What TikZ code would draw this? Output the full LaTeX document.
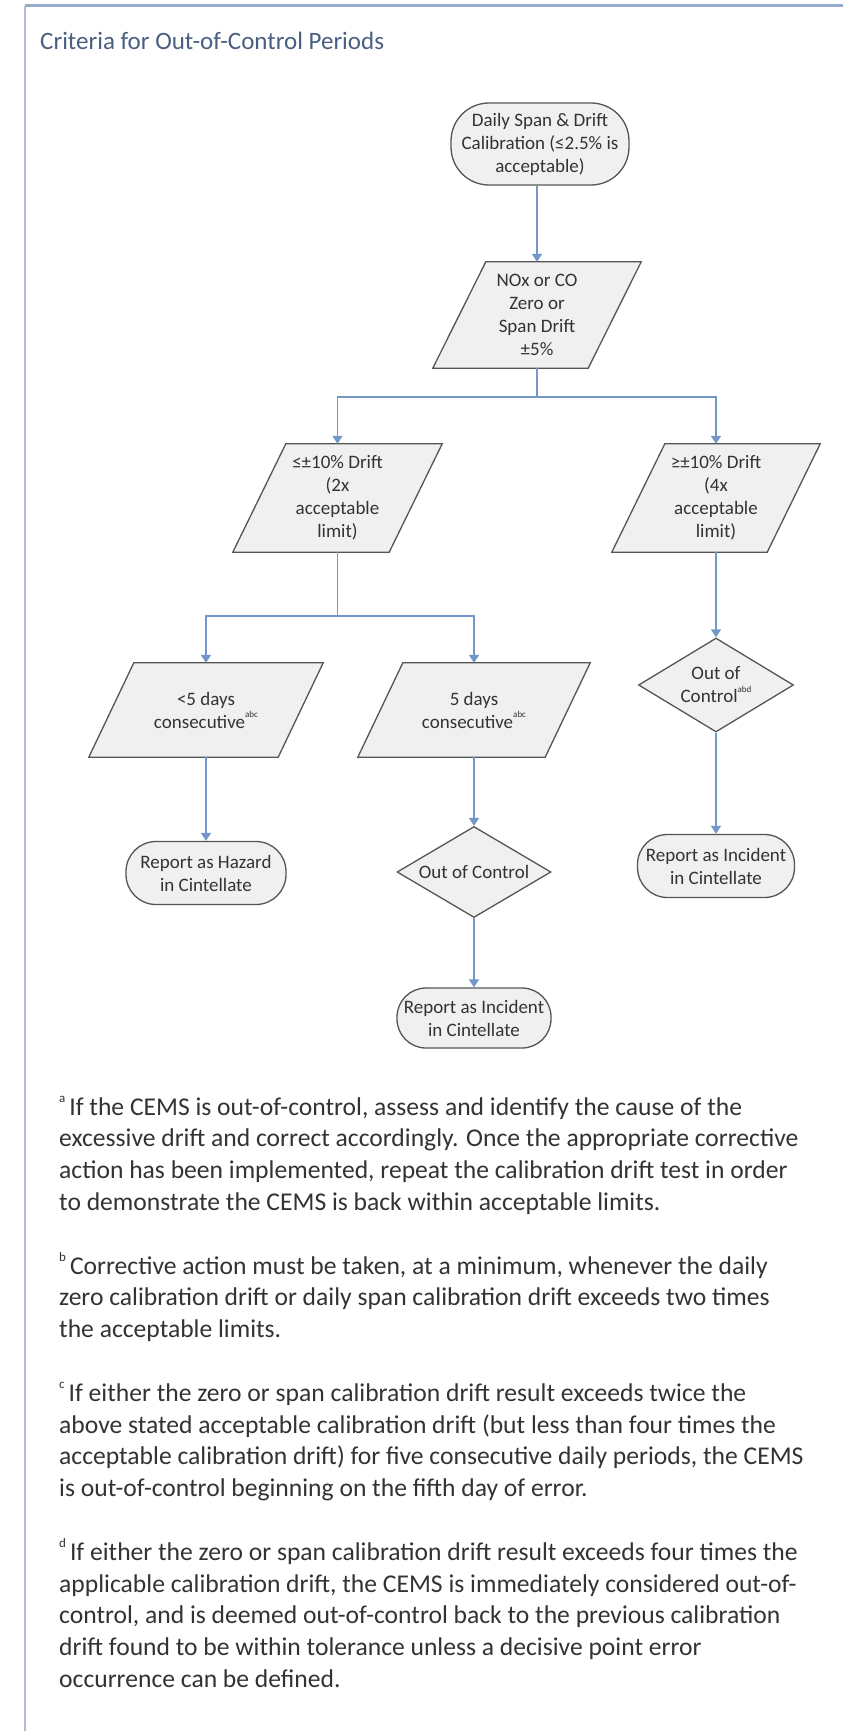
\documentclass[tikz,border=0pt]{standalone}
\usepackage{fontspec}
\setmainfont{Carlito}
\usetikzlibrary{shapes.geometric,backgrounds,arrows.meta}

\definecolor{linkblue}{HTML}{7297C8}
\definecolor{edgegray}{HTML}{555555}
\definecolor{boxfill}{HTML}{F0F0F0}
\definecolor{inktext}{HTML}{333333}
\definecolor{fntext}{HTML}{333333}
\definecolor{titleblue}{HTML}{4A5F80}
\definecolor{frametop}{HTML}{97ACCB}
\definecolor{frameside}{HTML}{B4BDCB}

% small raised marks used for footnote references
\newcommand\refmark[1]{\raisebox{0.55em}{\fontsize{9}{9}\selectfont #1}}
\newcommand\fnmark[1]{\raisebox{0.5em}{\fontsize{13}{13}\selectfont #1}\hspace{4pt}}
\newcommand\fnline[3]{\node[fnote] (#1) at (59,#2) {#3};}

\tikzset{
  conn/.style={draw=linkblue, line width=1.6pt},
  arrowconn/.style={conn, -{Triangle[width=10pt,length=8pt]}},
  shapetxt/.style={font=\fontsize{19}{23}\selectfont, text=inktext, align=center, inner sep=0pt},
  terminal/.style={shapetxt, draw=edgegray, fill=boxfill, line width=1.3pt},
  paranode/.style={shapetxt},
  parashape/.style={draw=edgegray, fill=boxfill, line width=1.3pt},
  decision/.style={shapetxt, diamond, aspect=1.65, draw=edgegray, fill=boxfill, line width=1.3pt},
  fnote/.style={anchor=base west, inner sep=0pt, font=\fontsize{25.6}{31.8}\selectfont, text=fntext},
  heading/.style={anchor=base west, inner sep=0pt, font=\fontsize{25}{30}\selectfont, text=titleblue},
}

\begin{document}
\begin{tikzpicture}[x=1pt, y=-1pt]
\useasboundingbox (0,0) rectangle (843,1731);

% frame of the panel
\draw[frameside, line width=2.5pt] (25,6) -- (25,1731);
\draw[frametop, line width=3pt] (25,6) -- (843,6);

\node[heading] (title) at (40,50) {Criteria for Out-of-Control Periods};

% flowchart nodes
\node[terminal, minimum width=178pt, minimum height=82pt, rounded corners=38pt] (start) at (540,144)
  {Daily Span \& Drift\\Calibration (≤2.5\% is\\acceptable)};

\node[paranode, minimum width=208pt, minimum height=106pt] (nox) at (537,315)
  {NOx or CO\\Zero or\\Span Drift\\±5\%};
\node[paranode, minimum width=209pt, minimum height=108pt] (lo) at (337.5,498)
  {≤±10\% Drift\\(2x\\acceptable\\limit)};
\node[paranode, minimum width=208pt, minimum height=108pt] (hi) at (716,498)
  {≥±10\% Drift\\(4x\\acceptable\\limit)};
\node[paranode, minimum width=234pt, minimum height=94pt] (few) at (206,710)
  {<5 days\\consecutive\refmark{abc}};
\node[paranode, minimum width=232pt, minimum height=94pt] (five) at (474,710)
  {5 days\\consecutive\refmark{abc}};

\node[decision, minimum width=155pt, minimum height=94pt] (oocr) at (716,685)
  {Out of\\Control\refmark{abd}};
\node[decision, minimum width=154pt, minimum height=91pt] (ooc) at (474,872)
  {Out of Control};

\node[terminal, minimum width=160pt, minimum height=63pt, rounded corners=30pt] (hazard) at (206,873)
  {Report as Hazard\\in Cintellate};
\node[terminal, minimum width=157pt, minimum height=63pt, rounded corners=30pt] (incright) at (716,866)
  {Report as Incident\\in Cintellate};
\node[terminal, minimum width=154pt, minimum height=60pt, rounded corners=29pt] (incmid) at (474,1018)
  {Report as Incident\\in Cintellate};

% parallelogram outlines behind their labels
\begin{scope}[on background layer]
  \fill[white] (0,0) rectangle (843,1731);
  \path[parashape] ([xshift=53pt]nox.north west) -- (nox.north east)
    -- ([xshift=-53pt]nox.south east) -- (nox.south west) -- cycle;
  \path[parashape] ([xshift=53pt]lo.north west) -- (lo.north east)
    -- ([xshift=-53pt]lo.south east) -- (lo.south west) -- cycle;
  \path[parashape] ([xshift=53pt]hi.north west) -- (hi.north east)
    -- ([xshift=-53pt]hi.south east) -- (hi.south west) -- cycle;
  \path[parashape] ([xshift=45pt]few.north west) -- (few.north east)
    -- ([xshift=-45pt]few.south east) -- (few.south west) -- cycle;
  \path[parashape] ([xshift=45pt]five.north west) -- (five.north east)
    -- ([xshift=-45pt]five.south east) -- (five.south west) -- cycle;
\end{scope}

% connectors
\coordinate (j1) at (537,397);
\coordinate (j2) at (337.5,616);
\draw[arrowconn] (nox.north |- start.south) -- (nox.north);
\draw[conn] (nox.south) -- (j1);
\draw[arrowconn] (j1) -| (lo.north);
\draw[arrowconn] (j1) -| (hi.north);
\draw[conn] (lo.south) -- (j2);
\draw[arrowconn] (j2) -| (few.north);
\draw[arrowconn] (j2) -| (five.north);
\draw[arrowconn] (few.south) -- (hazard.north);
\draw[arrowconn] (five.south) -- (ooc.north);
\draw[arrowconn] (ooc.south) -- (incmid.north);
\draw[arrowconn] (hi.south) -- (oocr.north);
\draw[arrowconn] (oocr.south) -- (incright.north);

% footnotes
\fnline{fa1}{1115}{\fnmark{a}If the CEMS is out-of-control, assess and identify the cause of the}
\fnline{fa2}{1146.8}{excessive drift and correct accordingly. Once the appropriate corrective}
\fnline{fa3}{1178.6}{action has been implemented, repeat the calibration drift test in order}
\fnline{fa4}{1210.4}{to demonstrate the CEMS is back within acceptable limits.}

\fnline{fb1}{1274}{\fnmark{b}Corrective action must be taken, at a minimum, whenever the daily}
\fnline{fb2}{1305.8}{zero calibration drift or daily span calibration drift exceeds two times}
\fnline{fb3}{1337.6}{the acceptable limits.}

\fnline{fc1}{1401.2}{\fnmark{c}If either the zero or span calibration drift result exceeds twice the}
\fnline{fc2}{1433}{above stated acceptable calibration drift (but less than four times the}
\fnline{fc3}{1464.8}{acceptable calibration drift) for five consecutive daily periods, the CEMS}
\fnline{fc4}{1496.6}{is out-of-control beginning on the fifth day of error.}

\fnline{fd1}{1560.2}{\fnmark{d}If either the zero or span calibration drift result exceeds four times the}
\fnline{fd2}{1592}{applicable calibration drift, the CEMS is immediately considered out-of-}
\fnline{fd3}{1623.8}{control, and is deemed out-of-control back to the previous calibration}
\fnline{fd4}{1655.6}{drift found to be within tolerance unless a decisive point error}
\fnline{fd5}{1687.4}{occurrence can be defined.}
\end{tikzpicture}
\end{document}
